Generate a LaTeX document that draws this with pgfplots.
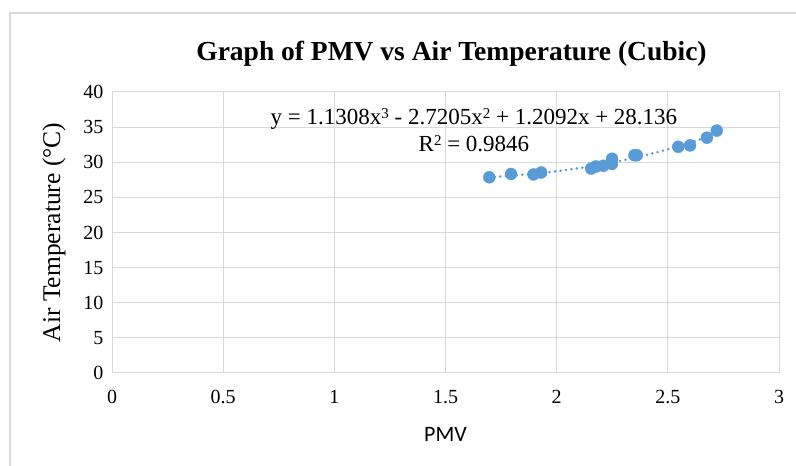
\documentclass[border=0pt]{standalone}
\usepackage{fontspec}
\setmainfont{Liberation Serif}
\newfontfamily\calibri{Carlito}
\usepackage{pgfplots}
\pgfplotsset{compat=1.18}
\definecolor{ptblue}{RGB}{91,155,213}
\definecolor{gridgray}{RGB}{217,217,217}

\begin{document}
\begin{tikzpicture}[x=1pt,y=1pt]
  \useasboundingbox (0,0) rectangle (796,466);
  % outer chart frame (cropped at right and bottom)
  \draw[gridgray, line width=1.5pt] (10,0) -- (10,453) -- (796,453);

  \begin{axis}[
      at={(112pt,93pt)}, anchor=south west,
      scale only axis,
      width=667pt, height=281pt,
      xmin=0, xmax=3, ymin=0, ymax=40,
      xtick={0,0.5,...,3}, ytick={0,5,...,40},
      grid=major,
      grid style={gridgray, line width=1pt},
      axis line style={gridgray, line width=1pt},
      major tick length=0pt,
      tick label style={font=\fontsize{20}{22}\selectfont},
      /pgf/number format/assume math mode=true,
      xticklabel style={yshift=-14pt},
      yticklabel style={xshift=-5pt},
      xlabel={\calibri PMV},
      xlabel style={font=\fontsize{22}{24}\selectfont, yshift=-16pt},
      ylabel={Air Temperature (°C)},
      ylabel style={font=\fontsize{25.5}{28}\selectfont, yshift=11pt},
      title={\bfseries Graph of PMV vs Air Temperature (Cubic)},
      title style={font=\fontsize{27.5}{30}\selectfont, yshift=16pt, xshift=6pt},
      clip=false,
    ]
    % cubic trendline (values from y = 1.1308x^3 - 2.7205x^2 + 1.2092x + 28.136)
    \addplot[ptblue, line width=2.8pt, line cap=round, dash pattern=on 0pt off 5.5pt] coordinates {
      (1.697,27.88) (1.80,28.09) (1.90,28.37) (2.00,28.72) (2.10,29.15)
      (2.20,29.67) (2.30,30.29) (2.40,31.00) (2.50,31.83) (2.60,32.76)
      (2.70,33.83) (2.72,34.05)
    };
    % observations
    \addplot[only marks, mark=*, mark size=6pt, ptblue, mark options={draw=ptblue, fill=ptblue}] coordinates {
      (1.697,27.86) (1.795,28.33) (1.896,28.26) (1.930,28.54)
      (2.155,29.10) (2.177,29.40) (2.210,29.50) (2.248,29.75) (2.249,30.50)
      (2.350,31.00) (2.360,31.00)
      (2.547,32.20) (2.600,32.40) (2.676,33.50) (2.720,34.50)
    };
    \node[font=\fontsize{23}{26}\selectfont, align=center] at (axis cs:1.628,34.6)
      {y = 1.1308x\raisebox{0.55ex}{\fontsize{15}{15}\selectfont 3} - 2.7205x\raisebox{0.55ex}{\fontsize{15}{15}\selectfont 2} + 1.2092x + 28.136\\[1pt]
       R\raisebox{0.55ex}{\fontsize{15}{15}\selectfont 2} = 0.9846};
  \end{axis}
\end{tikzpicture}
\end{document}
